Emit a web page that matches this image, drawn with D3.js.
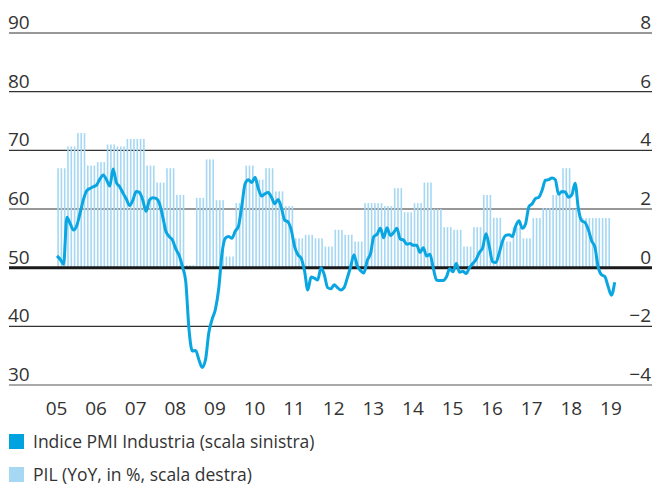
<!DOCTYPE html>
<html>
<head>
<meta charset="utf-8">
<script src="https://cdn.jsdelivr.net/npm/d3@7"></script>
<style>
    body { margin: 0; background: #fff; }
    svg { display: block; }
    text { font-family: "Open Sans", sans-serif; fill: #333; }
    .tick-label { font-size: 19px; }
    .legend-label { font-size: 17.5px; }
</style>
</head>
<body>
<svg id="chart" width="652" height="487"></svg>
<script>
// years on the x axis
var years = [2005, 2006, 2007, 2008, 2009, 2010, 2011, 2012, 2013, 2014, 2015, 2016, 2017, 2018, 2019];
var leftTicks = [30, 40, 50, 60, 70, 80, 90];
var rightTicks = [-4, -2, 0, 2, 4, 6, 8];

// Indice PMI Industria, monthly from Jan 2005
var pmi = [
    52.0, 51.4, 50.6, 58.6, 57.5, 56.4, 57.2, 59.3, 61.6, 63.1, 63.5, 63.8,
    64.1, 65.1, 65.8, 65.0, 63.9, 66.8, 64.5, 63.8, 62.7, 61.7, 60.6, 61.5,
    63.0, 62.8, 61.5, 59.6, 61.5, 61.9, 61.8, 61.0, 58.8, 56.2, 55.3, 54.7,
    53.2, 52.1, 50.2, 47.7, 39.5, 35.8, 35.9, 34.3, 33.0, 34.3, 38.9, 41.2,
    42.9, 46.4, 52.4, 55.0, 55.3, 55.0, 56.2, 57.1, 60.5, 64.3, 65.0, 64.5,
    65.4, 63.5, 62.2, 62.6, 62.8, 62.0, 60.9, 61.6, 60.2, 58.1, 57.8, 56.4,
    53.6, 52.2, 51.6, 49.5, 46.2, 48.4, 48.2, 47.9, 50.0, 48.8, 46.6, 46.4,
    47.1, 46.6, 46.2, 46.6, 48.3, 50.2, 52.2, 50.3, 49.5, 49.1, 51.2, 52.4,
    55.3, 55.7, 56.7, 55.1, 56.8, 55.5, 56.0, 56.7, 54.9, 54.7, 54.0, 54.1,
    53.8, 53.8, 52.6, 53.4, 52.0, 52.3, 50.0, 47.9, 47.8, 47.8, 48.4, 49.8,
    49.3, 50.7, 49.2, 49.4, 49.0, 50.0, 50.7, 51.4, 52.6, 53.4, 55.8, 53.6,
    51.0, 50.9, 52.5, 54.5, 55.5, 55.6, 55.3, 57.1, 58.0, 56.7, 57.5, 60.4,
    60.9, 61.8, 62.0, 63.2, 64.9, 65.0, 65.3, 65.0, 62.5, 63.0, 62.9, 62.0,
    62.4, 64.4, 60.0, 58.0, 57.7, 56.5, 54.6, 53.5, 50.1, 48.8, 48.5, 46.8,
    45.3, 47.5
];

// PIL YoY %, quarterly from 2005 Q1 (drawn as one bar per month)
var pil = [
    3.39, 4.13, 4.59, 3.48,
    3.60, 4.20, 4.13, 4.39,
    4.39, 3.48, 2.90, 3.39,
    2.48, 0.09, 2.38, 3.69,
    2.30, 0.38, 2.20, 3.48,
    3.00, 3.39, 2.60, 2.10,
    1.00, 1.12, 1.00, 0.72,
    1.29, 1.12, 0.89, 2.20,
    2.20, 2.10, 2.71, 1.89,
    2.20, 2.90, 2.00, 1.38,
    1.29, 0.72, 1.38, 2.48,
    1.70, 0.89, 1.38, 1.00,
    1.69, 2.03, 2.48, 3.39,
    2.00, 1.69, 1.69, 1.69
];

var legendItems = [
    {label: "Indice PMI Industria (scala sinistra)", color: "#00a3e0"},
    {label: "PIL (YoY, in %, scala destra)", color: "#a6d8f3"}
];

var svg = d3.select("#chart");

var x = d3.scaleLinear().domain([2005, 2019]).range([57, 611.4]);
var yL = d3.scaleLinear().domain([30, 90]).range([385, 33]);
var yR = d3.scaleLinear().domain([-4, 8]).range([385, 33]);

// gridlines
svg.append("g")
    .selectAll("line")
    .data(leftTicks)
    .enter().append("line")
    .attr("x1", 9).attr("x2", 652)
    .attr("y1", d => yL(d)).attr("y2", d => yL(d))
    .attr("stroke", d => d == 30 ? "#8c8c8c" : "#333")
    .attr("stroke-width", d => d == 30 ? 1.6 : 1.1);

// bars, one per month, quarter value repeated
var barData = [];
pil.forEach(function (v, q) {
    for (var k = 0; k < 3; k++) barData.push({t: 2005 + (q * 3 + k) / 12, v: v});
});
svg.append("g")
    .selectAll("rect")
    .data(barData)
    .enter().append("rect")
    .attr("x", d => x(d.t) + 0.3)
    .attr("width", 1.6)
    .attr("y", d => yR(d.v))
    .attr("height", d => yR(0) - yR(d.v))
    .attr("fill", "#a6d8f3");

// bold 50 / 0 line
svg.append("line")
    .attr("x1", 9).attr("x2", 652)
    .attr("y1", yL(50)).attr("y2", yL(50))
    .attr("stroke", "#1a1a1a")
    .attr("stroke-width", 3);

// PMI line
var line = d3.line()
    .x((d, i) => x(2005 + i / 12))
    .y(d => yL(d))
    .curve(d3.curveMonotoneX);

svg.append("path")
    .datum(pmi)
    .attr("d", line)
    .attr("fill", "none")
    .attr("stroke", "#0aa6e2")
    .attr("stroke-width", 3)
    .attr("stroke-linejoin", "round");

// axis labels
svg.append("g")
    .selectAll("text")
    .data(leftTicks)
    .enter().append("text")
    .attr("class", "tick-label")
    .attr("x", 8)
    .attr("y", d => yL(d) - 4)
    .text(d => d);

svg.append("g")
    .selectAll("text")
    .data(rightTicks)
    .enter().append("text")
    .attr("class", "tick-label")
    .attr("x", 651)
    .attr("y", d => yR(d) - 4)
    .attr("text-anchor", "end")
    .text(d => d < 0 ? "\u2212" + Math.abs(d) : d);

svg.append("g")
    .selectAll("text")
    .data(years)
    .enter().append("text")
    .attr("class", "tick-label")
    .attr("x", d => x(d) - 0.5)
    .attr("y", 415)
    .attr("text-anchor", "middle")
    .text(d => String(d).slice(2));

// legend
var lg = svg.append("g")
    .selectAll("g")
    .data(legendItems)
    .enter().append("g")
    .attr("transform", (d, i) => "translate(9," + (434 + i * 33) + ")");
lg.append("rect")
    .attr("width", 15).attr("height", 15)
    .attr("fill", d => d.color);
lg.append("text")
    .attr("class", "legend-label")
    .attr("x", 24)
    .attr("y", 14)
    .text(d => d.label);
</script>
</body>
</html>
